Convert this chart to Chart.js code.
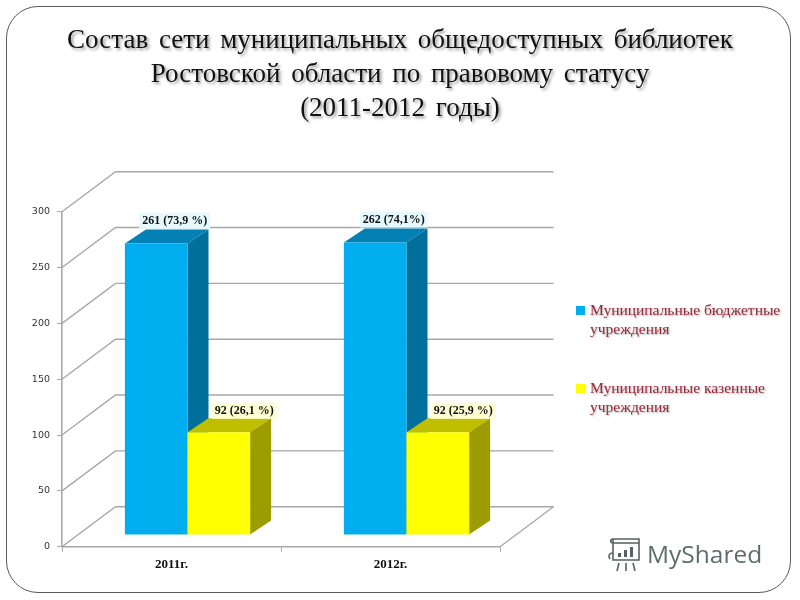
<!DOCTYPE html>
<html lang="ru">
<head>
<meta charset="utf-8">
<title>Состав сети библиотек</title>
<script src="https://cdn.jsdelivr.net/npm/chart.js@4"></script>
<style>
    html, body { margin: 0; padding: 0; background: #fff; }
    #slide { position: relative; width: 800px; height: 600px; overflow: hidden; }
    #frame {
        position: absolute; left: 6px; top: 6px; width: 783px; height: 585px;
        border: 1.5px solid #5a5a5a; border-radius: 32px;
    }
    canvas { position: absolute; left: 0; top: 0; }
    #title {
        position: absolute; left: 0; top: 22px; width: 800px; text-align: center;
        font: 27px/34px "Liberation Serif", serif; color: #111; word-spacing: 4px;
        text-shadow: 2px 2px 3px #999;
    }
    #legend { position: absolute; left: 576px; top: 0; width: 215px; }
    .legend-item { position: absolute; left: 0; width: 215px; }
    .legend-item i { position: absolute; left: 0; top: 5px; width: 9px; height: 9px; }
    .legend-item span {
        position: absolute; left: 14px; width: 205px;
        font: 15.5px/18.5px "Liberation Serif", serif; color: #9a2a3a;
        text-shadow: 1px 1px 2px #aaa;
    }
    #mark {
        position: absolute; left: 647px; top: 534px;
        font: 24.5px/40px "Open Sans", sans-serif; color: #5f6c6c;
    }
    #mark-icon { position: absolute; left: 607px; top: 537px; }
</style>
</head>
<body>
<div id="slide">
    <div id="frame"></div>
    <canvas id="libChart" width="800" height="600"></canvas>
    <div id="title">Состав сети муниципальных общедоступных библиотек<br>Ростовской области по правовому статусу<br>(2011-2012 годы)</div>
    <div id="legend"></div>
    <svg id="mark-icon" width="34" height="36" viewBox="0 0 34 36" fill="none" stroke="#55625f" stroke-width="1.6">
        <path d="M6 2h26v4H6zM6 2c-3 0-3 4 0 4M6 6v17h26V6M6 16c-4 0-5 3-3 6"/>
        <rect x="11" y="16" width="3" height="4" fill="#55625f" stroke="none"/>
        <rect x="17" y="13" width="3" height="7" fill="#55625f" stroke="none"/>
        <rect x="23" y="10" width="3" height="10" fill="#55625f" stroke="none"/>
        <path d="M12 26l-2 8M19 26v8M26 26l2 8"/>
    </svg>
    <div id="mark">MyShared</div>
</div>
<script>
    const years = ["2011г.", "2012г."];
    const budgetValues = [261, 262];
    const treasuryValues = [92, 92];
    const budgetLabels = ["261 (73,9 %)", "262 (74,1%)"];
    const treasuryLabels = ["92 (26,1 %)", "92 (25,9 %)"];
    const seriesNames = ["Муниципальные бюджетные учреждения", "Муниципальные казенные учреждения"];

    const BLUE = { front: "#00aeef", top: "#0481b4", side: "#006f9c", box: "#e6f9ff" };
    const YELLOW = { front: "#ffff00", top: "#bfbf00", side: "#9c9c00", box: "#ffffd6" };

    // floor/wall depth and the 3d look of the bars
    const wallDx = 53.5, wallDy = -40;
    const barShiftX = 16, barShiftY = -11.7;
    const barDepthX = 21, barDepthY = -14;
    const gridColor = "#a8a8a8";

    function line(ctx, pts) {
        ctx.beginPath();
        pts.forEach((p, i) => i ? ctx.lineTo(p[0], p[1]) : ctx.moveTo(p[0], p[1]));
        ctx.stroke();
    }

    function face(ctx, pts, color) {
        ctx.beginPath();
        pts.forEach((p, i) => i ? ctx.lineTo(p[0], p[1]) : ctx.moveTo(p[0], p[1]));
        ctx.closePath();
        ctx.fillStyle = color;
        ctx.fill();
    }

    const wallPlugin = {
        id: "wall",
        beforeDatasetsDraw(chart) {
            const ctx = chart.ctx, y = chart.scales.y, a = chart.chartArea;
            ctx.save();
            ctx.strokeStyle = gridColor;
            ctx.lineWidth = 1.4;
            y.ticks.forEach(t => {
                const py = y.getPixelForValue(t.value);
                line(ctx, [[a.left, py], [a.left + wallDx, py + wallDy], [a.right + wallDx, py + wallDy]]);
            });
            const py0 = y.getPixelForValue(0);
            line(ctx, [[a.right, py0], [a.right + wallDx, py0 + wallDy]]);
            ctx.restore();
        }
    };

    // the library would paint dataset 0 last, here yellow has to sit over the blue side face
    const bar3dPlugin = {
        id: "bar3d",
        beforeDatasetDraw() {
            return false;
        },
        afterDatasetsDraw(chart) {
            const ctx = chart.ctx;
            chart.data.datasets.forEach((ds, i) => {
                const meta = chart.getDatasetMeta(i);
                ctx.save();
                ctx.translate(barShiftX, barShiftY);
                meta.data.forEach(bar => {
                    const l = bar.x - bar.width / 2, r = bar.x + bar.width / 2;
                    const t = bar.y, b = bar.base;
                    face(ctx, [[l, t], [r, t], [r + barDepthX, t + barDepthY], [l + barDepthX, t + barDepthY]], ds.faces.top);
                    face(ctx, [[r, t], [r + barDepthX, t + barDepthY], [r + barDepthX, b + barDepthY], [r, b]], ds.faces.side);
                });
                meta.controller.draw();
                ctx.restore();
            });

            ctx.save();
            ctx.font = "bold 12px 'Liberation Serif', serif";
            ctx.textAlign = "center";
            ctx.textBaseline = "middle";
            chart.data.datasets.forEach((ds, i) => {
                const lift = i === 0 ? 23 : 21.5;
                const nudge = i === 0 ? 18.5 : 25.5;
                chart.getDatasetMeta(i).data.forEach((bar, k) => {
                    const text = ds.valueLabels[k];
                    const w = ctx.measureText(text).width + 6;
                    const cx = bar.x + barShiftX + nudge, cy = bar.y + barShiftY - lift;
                    ctx.fillStyle = ds.faces.box;
                    ctx.fillRect(cx - w / 2, cy - 8, w, 16);
                    ctx.fillStyle = "#111";
                    ctx.fillText(text, cx, cy);
                });
            });
            ctx.restore();
        }
    };

    new Chart(document.getElementById("libChart").getContext("2d"), {
        type: "bar",
        data: {
            labels: years,
            datasets: [
                { label: seriesNames[0], data: budgetValues, backgroundColor: BLUE.front, faces: BLUE, valueLabels: budgetLabels },
                { label: seriesNames[1], data: treasuryValues, backgroundColor: YELLOW.front, faces: YELLOW, valueLabels: treasuryLabels }
            ]
        },
        options: {
            responsive: false,
            animation: false,
            layout: { padding: { left: 0, top: 211.7, right: 300, bottom: 0 } },
            datasets: { bar: { barPercentage: 1, categoryPercentage: 0.572 } },
            plugins: { legend: { display: false }, tooltip: { enabled: false } },
            scales: {
                x: {
                    grid: { drawOnChartArea: false, tickLength: 5, color: gridColor },
                    border: { color: gridColor, width: 1.6 },
                    ticks: { color: "#111", padding: 5, font: { family: "'Liberation Serif', serif", size: 13, weight: "bold" } },
                    afterFit(scale) { scale.height = 53.3; }
                },
                y: {
                    min: 0,
                    max: 300,
                    grid: { drawOnChartArea: false, tickLength: 5, color: gridColor },
                    border: { color: gridColor, width: 1.6 },
                    ticks: { stepSize: 50, color: "#333", padding: 7, font: { family: "'DejaVu Sans', sans-serif", size: 9.5 } },
                    afterFit(scale) { scale.width = 62; }
                }
            }
        },
        plugins: [wallPlugin, bar3dPlugin]
    });

    const legendBox = document.getElementById("legend");
    [BLUE, YELLOW].forEach((c, i) => {
        const item = document.createElement("div");
        item.className = "legend-item";
        item.style.top = (i === 0 ? 301 : 379) + "px";
        item.innerHTML = '<i style="background:' + c.front + '"></i><span>' + seriesNames[i] + "</span>";
        legendBox.appendChild(item);
    });
</script>
</body>
</html>
